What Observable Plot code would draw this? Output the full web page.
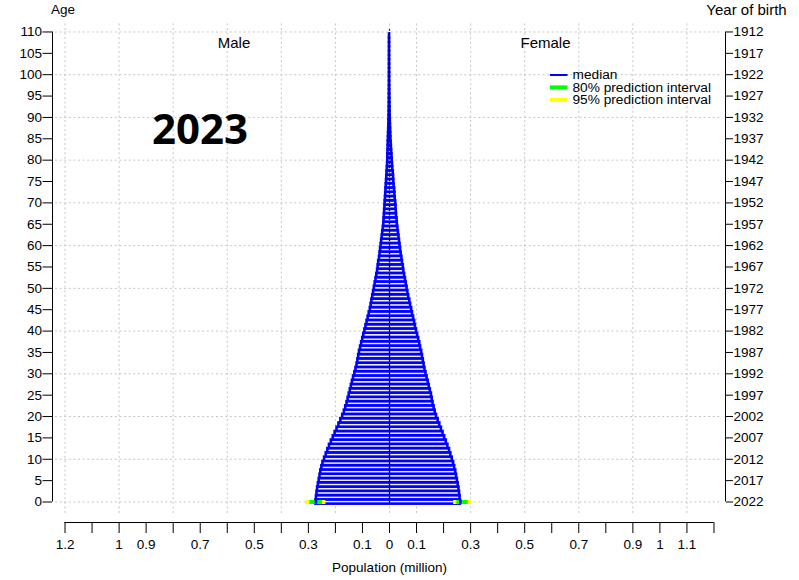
<!DOCTYPE html>
<html><head><meta charset="utf-8">
<script src="https://cdn.jsdelivr.net/npm/d3@7"></script>
<script src="https://cdn.jsdelivr.net/npm/@observablehq/plot@0.6"></script>
<style>body{margin:0;background:#fff}</style>
</head><body><div id="chart"></div>
<script>
// ---- data (population in millions, by single year of age) ----
const ages = d3.range(0, 111);
const male = [
  0.272,0.270,0.268,0.266,0.263,0.260,0.257,0.254,0.250,0.246,
  0.240,0.234,0.228,0.222,0.215,0.208,0.201,0.194,0.187,0.180,
  0.173,0.167,0.162,0.157,0.153,0.149,0.145,0.141,0.137,0.133,
  0.128,0.124,0.120,0.117,0.114,0.111,0.107,0.103,0.099,0.095,
  0.091,0.087,0.083,0.079,0.075,0.071,0.068,0.065,0.062,0.059,
  0.056,0.053,0.050,0.047,0.044,0.042,0.040,0.037,0.035,0.033,
  0.031,0.029,0.027,0.025,0.023,0.021,0.020,0.019,0.018,0.017,
  0.016,0.015,0.014,0.013,0.012,0.011,0.010,0.009,0.008,0.007,
  0.0065,0.006,0.0055,0.005,0.0045,0.004,0.0035,0.003,0.0025,0.002,
  0.0016,0.0013,0.001,0.0008,0.0006,0.0005,0.0004,0.0003,0.0002,0.00015,
  0.0001,0.00008,0.00006,0.00004,0.00003,0.00002,0.00001,0.00001,0,0,0
];
const female = [
  0.262,0.261,0.259,0.257,0.254,0.251,0.248,0.245,0.241,0.237,
  0.232,0.227,0.222,0.216,0.210,0.204,0.198,0.192,0.186,0.180,
  0.174,0.169,0.165,0.161,0.158,0.155,0.151,0.147,0.143,0.139,
  0.135,0.131,0.128,0.125,0.122,0.119,0.115,0.112,0.108,0.104,
  0.100,0.096,0.093,0.089,0.085,0.082,0.078,0.075,0.071,0.068,
  0.065,0.062,0.059,0.056,0.053,0.051,0.048,0.046,0.043,0.041,
  0.039,0.037,0.035,0.033,0.031,0.029,0.028,0.026,0.025,0.024,
  0.023,0.021,0.020,0.019,0.017,0.016,0.015,0.014,0.012,0.011,
  0.010,0.009,0.008,0.007,0.006,0.005,0.0045,0.004,0.0035,0.003,
  0.0025,0.002,0.0017,0.0014,0.0011,0.0009,0.0007,0.0005,0.0004,0.0003,
  0.0002,0.00015,0.0001,0.00008,0.00006,0.00004,0.00003,0.00002,0.00001,0.00001,0
];
// prediction intervals (only age 0 is projected)
const piAge = 0;
const male95 = [0.235, 0.310];
const male80 = [0.248, 0.294];
const female95 = [0.237, 0.303];
const female80 = [0.249, 0.291];

// ---- ticks / labels ----
const ageTicks = [0,5,10,15,20,25,30,35,40,45,50,55,60,65,70,75,80,85,90,95,100,105,110];
const birthYears = [2022,2017,2012,2007,2002,1997,1992,1987,1982,1977,1972,1967,1962,1957,1952,1947,1942,1937,1932,1927,1922,1917,1912];
const gridAges = [0,10,20,30,40,50,60,70,80,90,100,110];
const gridPop = [-1.2,-1.0,-0.8,-0.6,-0.4,-0.2,0,0.1,0.3,0.5,0.7,0.9,1.1];
const popTicks = [-1.2,-1.1,-1.0,-0.9,-0.8,-0.7,-0.6,-0.5,-0.4,-0.3,-0.2,-0.1,0,0.1,0.2,0.3,0.4,0.5,0.6,0.7,0.8,0.9,1.0,1.1,1.2];
const popLabelled = [-1.2,-1.0,-0.9,-0.7,-0.5,-0.3,-0.1,0,0.1,0.3,0.5,0.7,0.9,1.0,1.1];
const legendItems = ["median","80% prediction interval","95% prediction interval"];
const legendColors = ["#0000ff","#00ff00","#ffff00"];

// ---- layout ----
const W = 799, H = 580, ML = 52, MR = 74, MT = 20, MB = 58;
const X0 = 389, XS = 270.4, Y0 = 501.5, YS = 4.273;
const xDomain = [(ML - X0) / XS, (W - MR - X0) / XS];
const yDomain = [(Y0 - (H - MB)) / YS, (Y0 - MT) / YS];
const px = p => (p - X0) / XS;
const py = p => (Y0 - p) / YS;

const rows = ages.map((a, i) => ({age: a, male: male[i], female: female[i]}));
const pi95 = [{age: piAge, lo: -male95[1], hi: -male95[0]}, {age: piAge, lo: female95[0], hi: female95[1]}];
const pi80 = [{age: piAge, lo: -male80[1], hi: -male80[0]}, {age: piAge, lo: female80[0], hi: female80[1]}];
const edge0 = [{x: -male[0]}, {x: female[0]}];
const near = (a, b) => Math.abs(a - b) < 1e-6;
const fmtPop = d => popLabelled.some(v => near(v, d)) ? String(+Math.abs(d).toFixed(1)) : "";
const legend = legendItems.map((t, i) => ({t, c: legendColors[i], y: py(74.5 + i * 12.4), w: i === 0 ? 2 : 4}));

const grid = {stroke: "#c6c6c6", strokeDasharray: "2,2.6", strokeWidth: 1};
const FONT = "Liberation Sans, Arial, Helvetica, sans-serif";

const chart = Plot.plot({
  width: W, height: H,
  marginLeft: ML, marginRight: MR, marginTop: MT, marginBottom: MB,
  x: {domain: xDomain},
  y: {domain: yDomain},
  style: {fontFamily: FONT, fontSize: "13.5px", background: "#fff", color: "#000", overflow: "visible"},
  marks: [
    Plot.ruleY(gridAges, {y: d => d, x1: px(55), x2: px(722), ...grid}),
    Plot.ruleX(gridPop, {x: d => d, y1: py(513), y2: py(21), ...grid}),
    Plot.rect(rows, {x1: d => -d.male, x2: "female", y1: d => d.age - 0.5, y2: d => d.age + 0.5,
      fill: "#eeeefc", stroke: "#0000ff", strokeWidth: 2.6}),
    Plot.ruleY(pi95, {y: "age", x1: "lo", x2: "hi", stroke: "#ffff00", strokeWidth: 4}),
    Plot.ruleY(pi80, {y: "age", x1: "lo", x2: "hi", stroke: "#00ff00", strokeWidth: 4}),
    Plot.ruleX(edge0, {x: "x", y1: piAge - 0.5, y2: piAge + 0.5, stroke: "#0000ff", strokeWidth: 2.6}),
    Plot.ruleX([0], {y1: -0.5, y2: 110.5, stroke: "#000", strokeWidth: 1.3, strokeDasharray: "3,1.3"}),
    // axes
    Plot.ruleX([xDomain[0]], {y1: 0, y2: 110, stroke: "#000"}),
    Plot.ruleX([xDomain[1]], {y1: 0, y2: 110, stroke: "#000"}),
    Plot.ruleY([yDomain[0]], {x1: -1.2, x2: 1.2, stroke: "#000"}),
    Plot.axisY(ageTicks, {anchor: "left", tickSize: 9.5, tickPadding: 1, label: null, fontSize: 13.5}),
    Plot.axisY(ageTicks, {anchor: "right", tickSize: 7, tickPadding: 1, label: null, fontSize: 13.5,
      tickFormat: d => String(birthYears[ageTicks.indexOf(d)])}),
    Plot.axisX(popTicks, {anchor: "bottom", tickSize: 11, tickPadding: 6, label: null, fontSize: 13.5, tickFormat: fmtPop}),
    // titles
    Plot.text(["Age"], {x: px(62.5), y: py(9.5), text: d => d, fontSize: 13.5}),
    Plot.text(["Year of birth"], {x: px(746), y: py(9.5), text: d => d, fontSize: 15}),
    Plot.text(["Population (million)"], {x: 0, y: py(567), text: d => d, fontSize: 13.5}),
    Plot.text(["Male"], {x: px(233.5), y: py(42.5), text: d => d, fontSize: 15}),
    Plot.text(["Female"], {x: px(545), y: py(42.5), text: d => d, fontSize: 15}),
    Plot.text(["2023"], {x: px(199.5), y: py(130), text: d => d, fontSize: 42, fontWeight: "bold", fontFamily: "Open Sans"}),
    // legend
    Plot.ruleY(legend, {y: "y", x1: px(550), x2: px(567.5), stroke: "c", strokeWidth: "w"}),
    Plot.text(legend, {x: px(572), y: "y", text: "t", textAnchor: "start", fontSize: 13.7})
  ]
});
document.getElementById("chart").append(chart);
</script>
</body></html>
